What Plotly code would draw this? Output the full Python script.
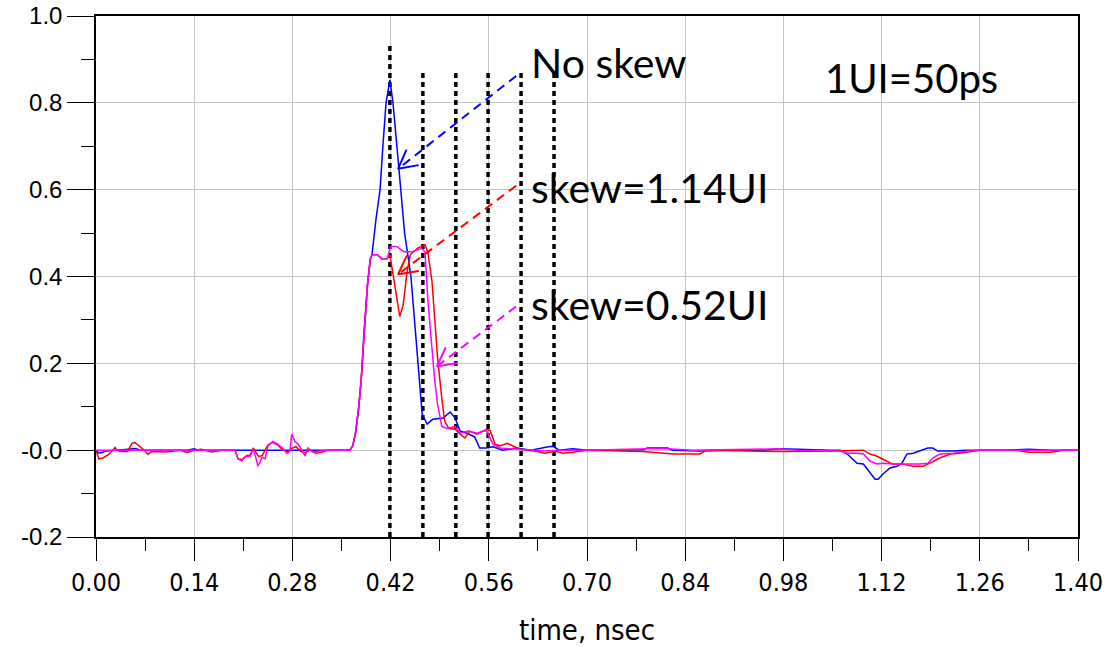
import math
import plotly.graph_objects as go

# ---------------- data ----------------
t_noskew = [0.000, 0.004, 0.010, 0.014, 0.030, 0.050, 0.057, 0.062, 0.130, 0.140, 0.145,
            0.200, 0.300, 0.362, 0.366, 0.370, 0.374, 0.378, 0.382, 0.387, 0.391, 0.3935,
            0.399, 0.405, 0.409, 0.4135, 0.419, 0.4234, 0.429, 0.4348, 0.440, 0.449, 0.454,
            0.459, 0.462, 0.465, 0.472, 0.480, 0.495, 0.505, 0.512, 0.519, 0.529, 0.540,
            0.547, 0.556, 0.566, 0.580, 0.600, 0.620, 0.645, 0.652, 0.660, 0.680, 0.700,
            0.740, 0.780, 0.786, 0.815, 0.822, 0.860, 0.900, 0.950, 0.975, 0.985, 1.000,
            1.046, 1.061, 1.071, 1.085, 1.094, 1.1035, 1.1106, 1.115, 1.122, 1.132, 1.142,
            1.149, 1.156, 1.165, 1.179, 1.186, 1.193, 1.200, 1.222, 1.240, 1.300, 1.330,
            1.360, 1.400]
v_noskew = [0.000, -0.007, -0.005, -0.002, 0.000, 0.004, 0.004, 0.000, 0.000, 0.003, 0.000,
            0.000, 0.000, 0.000, 0.010, 0.040, 0.090, 0.160, 0.270, 0.380, 0.440, 0.450,
            0.530, 0.600, 0.700, 0.800, 0.853, 0.800, 0.700, 0.600, 0.500, 0.400, 0.300,
            0.200, 0.130, 0.083, 0.060, 0.071, 0.074, 0.088, 0.074, 0.044, 0.039, 0.030,
            0.005, 0.005, 0.008, 0.000, 0.005, 0.000, 0.008, 0.009, 0.000, 0.003, 0.000,
            0.000, 0.001, 0.005, 0.005, 0.000, -0.002, 0.000, 0.000, 0.003, 0.002, 0.002,
            0.000, 0.000, -0.009, -0.030, -0.032, -0.053, -0.067, -0.067, -0.055, -0.041, -0.037,
            -0.030, -0.009, -0.007, 0.000, 0.005, 0.005, -0.002, -0.002, 0.000, 0.000, 0.002,
            0.000, 0.000]

t_skew114 = [0.000, 0.004, 0.010, 0.018, 0.024, 0.027, 0.030, 0.034, 0.045, 0.051, 0.055,
             0.062, 0.069, 0.074, 0.079, 0.100, 0.120, 0.130, 0.140, 0.150, 0.165, 0.180,
             0.198, 0.2025, 0.208, 0.215, 0.2196, 0.224, 0.228, 0.232, 0.237, 0.241, 0.245,
             0.252, 0.259, 0.2666, 0.274, 0.279, 0.285, 0.291, 0.298, 0.305, 0.3137, 0.322,
             0.330, 0.362, 0.366, 0.370, 0.374, 0.378, 0.382, 0.387, 0.391, 0.3935, 0.401,
             0.408, 0.415, 0.419, 0.423, 0.429, 0.433, 0.438, 0.443, 0.448, 0.458, 0.469,
             0.473, 0.479, 0.483, 0.487, 0.493, 0.497, 0.503, 0.512, 0.519, 0.526, 0.533,
             0.543, 0.557, 0.562, 0.569, 0.576, 0.586, 0.594, 0.604, 0.630, 0.640, 0.655,
             0.665, 0.680, 0.700, 0.780, 0.823, 0.861, 0.870, 0.930, 0.980, 1.050, 1.094,
             1.1035, 1.1135, 1.122, 1.136, 1.1505, 1.165, 1.179, 1.189, 1.203, 1.2175, 1.232,
             1.242, 1.260, 1.310, 1.330, 1.360, 1.380, 1.400]
v_skew114 = [0.000, -0.020, -0.018, -0.010, 0.000, 0.006, 0.000, -0.003, -0.003, 0.015, 0.018,
             0.010, 0.000, -0.010, -0.003, -0.004, 0.000, -0.005, 0.000, 0.002, -0.004, 0.000,
             0.000, -0.020, -0.022, -0.012, -0.012, 0.005, -0.005, -0.015, -0.012, 0.000, 0.012,
             0.018, 0.012, 0.000, -0.004, 0.004, 0.008, -0.002, -0.006, 0.000, -0.007, -0.005,
             0.000, 0.000, 0.010, 0.040, 0.090, 0.160, 0.270, 0.380, 0.440, 0.450, 0.450,
             0.440, 0.441, 0.450, 0.410, 0.350, 0.308, 0.335, 0.405, 0.450, 0.465, 0.473,
             0.457, 0.389, 0.290, 0.212, 0.120, 0.067, 0.050, 0.048, 0.037, 0.028, 0.044,
             0.037, 0.048, 0.045, 0.014, 0.010, 0.016, 0.010, 0.002, -0.003, -0.007, -0.002,
             -0.007, -0.005, 0.000, -0.003, -0.009, -0.009, 0.000, -0.002, -0.003, -0.002, 0.000,
             -0.009, -0.014, -0.021, -0.032, -0.032, -0.037, -0.037, -0.030, -0.018, -0.009, -0.007,
             -0.005, 0.000, 0.000, -0.005, -0.005, 0.000, 0.000]

t_skew052 = [0.000, 0.100, 0.198, 0.2025, 0.208, 0.212, 0.2196, 0.224, 0.2267, 0.231, 0.2367,
             0.241, 0.245, 0.252, 0.259, 0.2666, 0.272, 0.2766, 0.279, 0.2837, 0.288, 0.2937,
             0.298, 0.302, 0.309, 0.319, 0.334, 0.362, 0.366, 0.370, 0.374, 0.378, 0.382,
             0.387, 0.391, 0.3935, 0.401, 0.408, 0.415, 0.420, 0.429, 0.439, 0.451, 0.464,
             0.469, 0.473, 0.479, 0.483, 0.487, 0.493, 0.500, 0.512, 0.519, 0.531, 0.543,
             0.552, 0.557, 0.566, 0.576, 0.600, 0.640, 0.660, 0.700, 0.786, 0.815, 0.850,
             0.975, 1.000, 1.061, 1.071, 1.085, 1.094, 1.1035, 1.1135, 1.122, 1.136, 1.156,
             1.175, 1.186, 1.193, 1.203, 1.222, 1.242, 1.260, 1.400]
v_skew052 = [0.000, 0.000, 0.000, -0.020, -0.025, -0.016, -0.014, 0.002, -0.010, -0.037, -0.016,
             -0.020, 0.009, 0.020, 0.014, 0.004, -0.007, -0.002, 0.037, 0.020, 0.014, 0.000,
             -0.014, 0.005, -0.004, -0.002, 0.000, 0.000, 0.010, 0.040, 0.090, 0.160, 0.270,
             0.380, 0.440, 0.450, 0.450, 0.440, 0.441, 0.469, 0.469, 0.457, 0.457, 0.465,
             0.457, 0.350, 0.234, 0.159, 0.106, 0.055, 0.050, 0.055, 0.039, 0.044, 0.039,
             0.044, 0.044, 0.014, 0.005, 0.002, -0.002, 0.000, 0.000, 0.003, 0.003, 0.000,
             0.003, 0.000, -0.002, -0.007, -0.007, -0.009, -0.025, -0.032, -0.030, -0.032, -0.032,
             -0.032, -0.030, -0.018, -0.009, -0.007, -0.002, 0.000, 0.000]

# vertical dotted markers (1 UI spacing) and their top values
marker_t = [0.419, 0.466, 0.513, 0.559, 0.606, 0.653]
marker_top = [0.933, 0.871, 0.871, 0.871, 0.871, 0.871]

x_ticks = [0.00, 0.14, 0.28, 0.42, 0.56, 0.70, 0.84, 0.98, 1.12, 1.26, 1.40]
x_ticktext = ["0.00", "0.14", "0.28", "0.42", "0.56", "0.70", "0.84", "0.98", "1.12", "1.26", "1.40"]
y_ticks = [-0.2, 0.0, 0.2, 0.4, 0.6, 0.8, 1.0]
y_ticktext = ["-0.2", "-0.0", "0.2", "0.4", "0.6", "0.8", "1.0"]

labels = ["No skew", "skew=1.14UI", "skew=0.52UI"]
label_pos = [(0.618, 0.894), (0.618, 0.605), (0.618, 0.335)]
arrow_tail = [(0.599, 0.862), (0.599, 0.609), (0.599, 0.331)]
arrow_tip = [(0.4306, 0.648), (0.4306, 0.405), (0.486, 0.193)]
colors = ["#0000ff", "#ff0000", "#ff00ff"]
ui_text = "1UI=50ps"
ui_pos = (1.036, 0.858)

# ---------------- layout geometry ----------------
W, H = 1107, 647
ML, MR, MT, MB = 96, 29, 16, 110
X0, X1, Y0, Y1 = 0.0, 1.40, -0.2, 1.0
PW, PH = W - ML - MR, H - MT - MB


def to_px(t, v):
    return ML + (t - X0) / (X1 - X0) * PW, MT + (Y1 - v) / (Y1 - Y0) * PH


def to_data(px, py):
    return X0 + (px - ML) / PW * (X1 - X0), Y1 - (py - MT) / PH * (Y1 - Y0)


fig = go.Figure()

# dotted UI markers
for t, top in zip(marker_t, marker_top):
    fig.add_trace(go.Scatter(x=[t, t], y=[Y0, top], mode="lines",
                             line=dict(color="black", width=3.5, dash="5px,4px"),
                             hoverinfo="skip", showlegend=False))

series = [(t_noskew, v_noskew), (t_skew114, v_skew114), (t_skew052, v_skew052)]
for (tt, vv), c, name in zip(series, colors, labels):
    fig.add_trace(go.Scatter(x=tt, y=vv, mode="lines", name=name,
                             line=dict(color=c, width=1.5), showlegend=False))

# dashed arrows with open heads
for (tx, ty), (hx, hy), c in zip(arrow_tail, arrow_tip, colors):
    fig.add_trace(go.Scatter(x=[tx, hx], y=[ty, hy], mode="lines",
                             line=dict(color=c, width=2, dash="9px,6px"),
                             hoverinfo="skip", showlegend=False))
    p_tail = to_px(tx, ty)
    p_tip = to_px(hx, hy)
    ang = math.atan2(p_tail[1] - p_tip[1], p_tail[0] - p_tip[0])
    xs, ys = [], []
    for sgn in (1, -1):
        a = ang + sgn * math.radians(28)
        ex, ey = to_data(p_tip[0] + 21 * math.cos(a), p_tip[1] + 21 * math.sin(a))
        xs += [ex, hx]
        ys += [ey, hy]
    fig.add_trace(go.Scatter(x=[xs[0], hx, xs[2]], y=[ys[0], hy, ys[2]], mode="lines",
                             line=dict(color=c, width=2),
                             hoverinfo="skip", showlegend=False))

for txt, (lx, ly) in zip(labels, label_pos):
    fig.add_annotation(x=lx, y=ly, text=txt, showarrow=False, xanchor="left", yanchor="middle",
                       font=dict(family="Lato, Open Sans, sans-serif", size=41, color="black"))
fig.add_annotation(x=ui_pos[0], y=ui_pos[1], text=ui_text, showarrow=False, xanchor="left",
                   yanchor="middle", font=dict(family="Lato, Open Sans, sans-serif", size=40, color="black"))

narrow = "Liberation Sans Narrow, DejaVu Sans Condensed, Arial Narrow, sans-serif"
fig.update_layout(
    width=W, height=H,
    margin=dict(l=ML, r=MR, t=MT, b=MB, autoexpand=False),
    paper_bgcolor="white", plot_bgcolor="white",
    xaxis=dict(range=[X0, X1], tickmode="array", tickvals=x_ticks, ticktext=x_ticktext,
               automargin=False,
               ticks="outside", ticklen=22, tickwidth=1, tickcolor="black",
               showgrid=True, gridcolor="#c4c4c4", gridwidth=1,
               showline=True, linecolor="black", linewidth=1.5, mirror=True,
               zeroline=False,
               minor=dict(tickmode="array", tickvals=[0.07 + 0.14 * i for i in range(10)],
                          ticks="outside", ticklen=12, tickcolor="black", showgrid=False),
               tickfont=dict(family=narrow, size=25, color="black"),
               title=dict(text="time, nsec", font=dict(family=narrow, size=29, color="black"),
                          standoff=27)),
    yaxis=dict(range=[Y0, Y1], tickmode="array", tickvals=y_ticks, ticktext=y_ticktext,
               automargin=False,
               ticks="outside", ticklen=27, tickwidth=1, tickcolor="black",
               showgrid=True, gridcolor="#c4c4c4", gridwidth=1,
               showline=True, linecolor="black", linewidth=1.5, mirror=True,
               zeroline=False,
               minor=dict(tickmode="array", tickvals=[-0.1, 0.1, 0.3, 0.5, 0.7, 0.9],
                          ticks="outside", ticklen=13, tickcolor="black", showgrid=False),
               tickfont=dict(family="Liberation Sans, Arial, sans-serif", size=24, color="black")),
)

fig.write_html("out.html", config={"displayModeBar": False},
               post_script="document.body.style.margin='0px';document.body.style.overflow='hidden';")
